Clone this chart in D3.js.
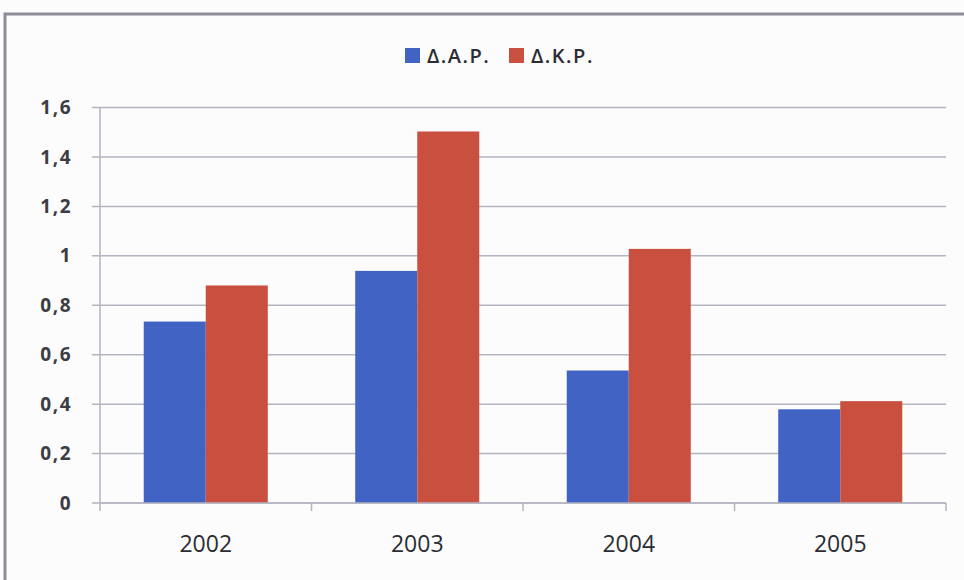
<!DOCTYPE html>
<html><head><meta charset="utf-8">
<script src="https://cdn.jsdelivr.net/npm/d3@7"></script>
<style>
html,body{margin:0;padding:0;background:#fbfcfb;}
svg{display:block;}
text{font-family:"Open Sans","Noto Sans",sans-serif;}
</style></head>
<body><svg id="c" width="964" height="580"></svg>
<script>
const categories = ["2002","2003","2004","2005"];
const seriesNames = ["Δ.Α.Ρ.","Δ.Κ.Ρ."];
const dapValues = [0.734, 0.939, 0.536, 0.379];
const dkpValues = [0.880, 1.503, 1.028, 0.412];
const yTicks = [0,0.2,0.4,0.6,0.8,1,1.2,1.4,1.6];
const yTickLabels = ["0","0,2","0,4","0,6","0,8","1","1,2","1,4","1,6"];
const colors = ["#4163c3","#c9503f"];

(function(){
const svg = d3.select("#c");
// frame
svg.append("path").attr("d","M5,580 V14 H964").attr("fill","none").attr("stroke","#8d8d9c").attr("stroke-width",3);

const pLeft=100, pRight=946, pTop=107.5, pBottom=503;
const x = d3.scaleBand().domain(categories).range([pLeft,pRight]).paddingInner(0).paddingOuter(0);
const xs = d3.scaleBand().domain(seriesNames).range([0,x.bandwidth()]).paddingInner(0).paddingOuter(0.705);
const y = d3.scaleLinear().domain([0,1.6]).range([pBottom,pTop]);

// gridlines
svg.append("g").selectAll("line").data(yTicks).join("line")
  .attr("x1",pLeft-8).attr("x2",pRight).attr("y1",d=>y(d)).attr("y2",d=>y(d))
  .attr("stroke","#b5b5c2").attr("stroke-width",1.5);

// y axis line
svg.append("line").attr("x1",pLeft).attr("x2",pLeft).attr("y1",pTop).attr("y2",pBottom)
  .attr("stroke","#b5b5c2").attr("stroke-width",1.5);

// y labels
svg.append("g").selectAll("text").data(yTicks).join("text")
  .attr("x",72).attr("y",d=>y(d)).attr("dy","0.35em").attr("text-anchor","end")
  .attr("font-size",19).attr("font-weight",700).attr("letter-spacing","1.5px").attr("fill","#3c3c44")
  .text((d,i)=>yTickLabels[i]);

// bars
const data = categories.map((c,i)=>({cat:c, vals:[dapValues[i],dkpValues[i]]}));
const g = svg.append("g");
data.forEach(d=>{
  d.vals.forEach((v,j)=>{
    g.append("rect").attr("x",x(d.cat)+xs(seriesNames[j])).attr("width",xs.bandwidth())
      .attr("y",y(v)).attr("height",y(0)-y(v)).attr("fill",colors[j]);
  });
});

// x axis
svg.append("line").attr("x1",pLeft).attr("x2",pRight).attr("y1",pBottom).attr("y2",pBottom)
  .attr("stroke","#b5b5c2").attr("stroke-width",1.5);
const bounds = [pLeft].concat(categories.map(c=>x(c)+x.bandwidth()));
svg.append("g").selectAll("line").data(bounds).join("line")
  .attr("x1",d=>d).attr("x2",d=>d).attr("y1",pBottom).attr("y2",pBottom+8)
  .attr("stroke","#b5b5c2").attr("stroke-width",1.5);
svg.append("g").selectAll("text").data(categories).join("text")
  .attr("x",d=>x(d)+x.bandwidth()/2).attr("y",543.5).attr("dy","0.35em").attr("text-anchor","middle")
  .attr("font-size",23).attr("font-weight",500).attr("fill","#2c2c34")
  .text(d=>d);

// legend
const legendX=[405,509];
seriesNames.forEach((n,i)=>{
  svg.append("rect").attr("x",legendX[i]).attr("y",48).attr("width",15).attr("height",15).attr("fill",colors[i]);
  svg.append("text").attr("x",legendX[i]+22).attr("y",55.5).attr("dy","0.35em")
    .attr("font-size",20).attr("font-weight",600).attr("letter-spacing","1.5px").attr("fill","#2c2c34").text(n);
});
})();
</script></body></html>
